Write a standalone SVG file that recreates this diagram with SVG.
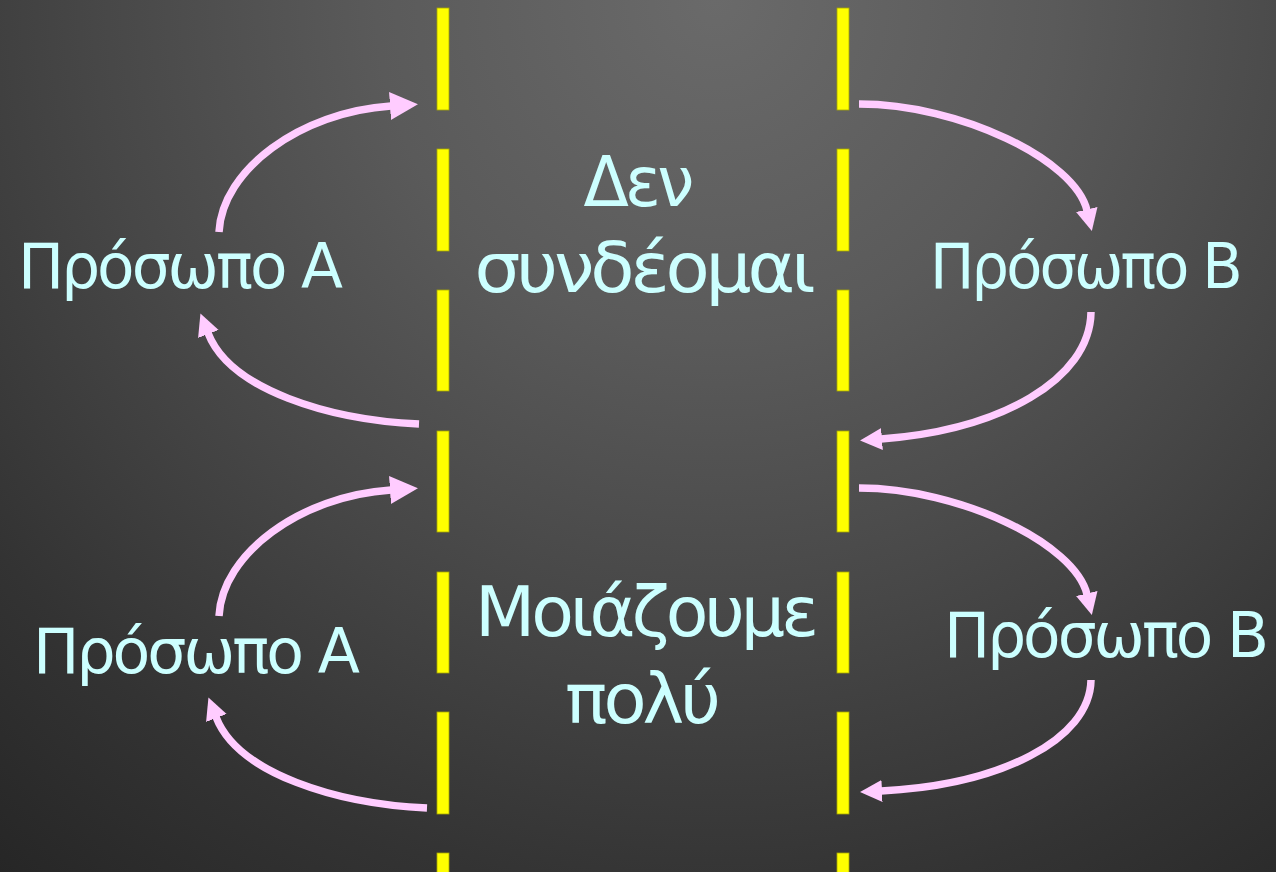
<svg xmlns="http://www.w3.org/2000/svg" width="1276" height="872" viewBox="0 0 1276 872">
  <defs>
    <radialGradient id="bg" gradientUnits="userSpaceOnUse" cx="715" cy="0" r="1130">
      <stop offset="0" stop-color="#6a6a6a"/>
      <stop offset="0.3" stop-color="#5a5a5a"/>
      <stop offset="0.55" stop-color="#474747"/>
      <stop offset="0.8" stop-color="#333333"/>
      <stop offset="1" stop-color="#262626"/>
    </radialGradient>
    <marker id="headBig" markerUnits="userSpaceOnUse" markerWidth="30" markerHeight="30" refX="1" refY="14" orient="auto" viewBox="0 0 30 30">
      <path d="M0,0 L28,14 L0,28 Z" fill="#FFCCFF"/>
    </marker>
    <marker id="headSmall" markerUnits="userSpaceOnUse" markerWidth="24" markerHeight="24" refX="1" refY="11" orient="auto" viewBox="0 0 24 24">
      <path d="M0,0 L22,11 L0,22 Z" fill="#FFCCFF"/>
    </marker>
    <style>
      .dash { fill: #FFFF00; stroke: #a8a800; stroke-width: 0.8; }
      .arrow { fill: none; stroke: #FFCCFF; stroke-width: 7.5; }
      .big { marker-end: url(#headBig); }
      .small { marker-end: url(#headSmall); }
      .lbl { font-family: "DejaVu Sans", Verdana, sans-serif; fill: #CCFFFF; text-anchor: middle; }
      .side { font-size: 62px; letter-spacing: -3px; }
      .mid { font-size: 70px; letter-spacing: -4px; }
    </style>
  </defs>

  <rect x="0" y="0" width="1276" height="872" fill="url(#bg)"/>

  <g id="line-left">
    <rect class="dash" x="437" y="8" width="12" height="102"/>
    <rect class="dash" x="437" y="149" width="12" height="102"/>
    <rect class="dash" x="437" y="290" width="12" height="101"/>
    <rect class="dash" x="437" y="431" width="12" height="101"/>
    <rect class="dash" x="437" y="572" width="12" height="101"/>
    <rect class="dash" x="437" y="712" width="12" height="102"/>
    <rect class="dash" x="437" y="853" width="12" height="30"/>
  </g>
  <g id="line-right">
    <rect class="dash" x="837" y="8" width="12" height="102"/>
    <rect class="dash" x="837" y="149" width="12" height="102"/>
    <rect class="dash" x="837" y="290" width="12" height="101"/>
    <rect class="dash" x="837" y="431" width="12" height="101"/>
    <rect class="dash" x="837" y="572" width="12" height="101"/>
    <rect class="dash" x="837" y="712" width="12" height="102"/>
    <rect class="dash" x="837" y="853" width="12" height="30"/>
  </g>

  <g id="connectors">
    <path class="arrow big" d="M219,232 C222,170 300,112 391,106"/>
    <path class="arrow small" d="M419,424 C330,420 230,390 208,333"/>
    <path class="arrow small" d="M859,104 C960,104 1075,160 1087,210.5"/>
    <path class="arrow small" d="M1091,312 C1090,380 1000,430 881,439"/>
    <path class="arrow big" d="M219,616 C222,554 300,496 391,490"/>
    <path class="arrow small" d="M427,808 C338,804 238,774 216,717"/>
    <path class="arrow small" d="M859,488 C960,488 1075,544 1087,594.5"/>
    <path class="arrow small" d="M1091,680 C1090,740 1000,785 881,791"/>
  </g>

  <g id="personA-top"><text class="lbl side" x="179" y="288" textLength="322" lengthAdjust="spacingAndGlyphs">Πρόσωπο A</text></g>
  <g id="personB-top"><text class="lbl side" x="1085" y="288" textLength="310" lengthAdjust="spacingAndGlyphs">Πρόσωπο B</text></g>
  <g id="center-top">
    <text class="lbl mid" x="637" y="206" textLength="107" lengthAdjust="spacingAndGlyphs">Δεν</text>
    <text class="lbl mid" x="643" y="292" textLength="337" lengthAdjust="spacingAndGlyphs">συνδέομαι</text>
  </g>
  <g id="personA-bottom"><text class="lbl side" x="195" y="673" textLength="324" lengthAdjust="spacingAndGlyphs">Πρόσωπο A</text></g>
  <g id="personB-bottom"><text class="lbl side" x="1105" y="657" textLength="322" lengthAdjust="spacingAndGlyphs">Πρόσωπο B</text></g>
  <g id="center-bottom">
    <text class="lbl mid" x="645" y="636" textLength="340" lengthAdjust="spacingAndGlyphs">Μοιάζουμε</text>
    <text class="lbl mid" x="641" y="723" textLength="152" lengthAdjust="spacingAndGlyphs">πολύ</text>
  </g>
</svg>
